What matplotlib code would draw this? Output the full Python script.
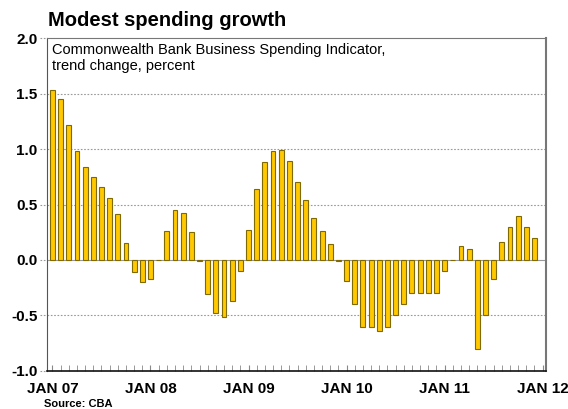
import numpy as np
import matplotlib.pyplot as plt

plt.rcParams['font.family'] = ['Liberation Sans', 'DejaVu Sans']

# monthly, Jan 2007 - Dec 2011
values = [1.53, 1.45, 1.22, 0.98, 0.84, 0.75, 0.66, 0.56, 0.41, 0.15, -0.11, -0.20,
          -0.17, 0.00, 0.26, 0.45, 0.42, 0.25, -0.01, -0.31, -0.48, -0.51, -0.37, -0.10,
          0.27, 0.64, 0.88, 0.98, 0.99, 0.89, 0.70, 0.54, 0.38, 0.26, 0.14, -0.01,
          -0.19, -0.40, -0.60, -0.60, -0.64, -0.60, -0.50, -0.40, -0.30, -0.30, -0.30, -0.30,
          -0.10, 0.00, 0.13, 0.10, -0.80, -0.50, -0.17, 0.16, 0.30, 0.40, 0.30, 0.20]
year_labels = ["JAN 07", "JAN 08", "JAN 09", "JAN 10", "JAN 11", "JAN 12"]
y_ticks = [-1.0, -0.5, 0.0, 0.5, 1.0, 1.5, 2.0]

x = np.arange(len(values))

fig = plt.figure(figsize=(5.68, 4.09), dpi=100)
ax = fig.add_axes([0.0827, 0.093, 0.878, 0.814])

ax.bar(x, values, width=0.6, color="#FFC800", edgecolor="#7F6A00", linewidth=0.8, zorder=3)

ax.set_xlim(-0.67, 60.37)
ax.set_ylim(-1.0, 2.0)

# gridlines, extended a little to the left like the original
for yv in y_ticks[1:-1]:
    if yv == 0.0:
        ax.axhline(0, color="#999999", lw=0.8, zorder=2)
    else:
        ax.axhline(yv, color="#999999", lw=0.8, ls=(0, (1.5, 1.5)), zorder=1)
for yv in y_ticks:
    ax.plot([-0.014, 0], [yv, yv], transform=ax.get_yaxis_transform(), color="#999999",
            lw=0.8, ls=(0, (1.5, 1.5)), clip_on=False)

ax.set_yticks(y_ticks)
ax.set_yticklabels([f"{v:.1f}" for v in y_ticks], fontsize=11, fontweight="bold")
ax.tick_params(axis="y", length=0, pad=7)

ax.set_xticks(np.arange(0, 61, 12))
ax.set_xticklabels(year_labels, fontsize=11, fontweight="bold")
ax.set_xticks(np.arange(0, 61), minor=True)
ax.tick_params(axis="x", which="both", direction="in", length=4, color="#888888")
ax.tick_params(axis="x", which="major", pad=8)

for side in ["top", "right"]:
    ax.spines[side].set_color("#777777")
ax.spines["right"].set_linewidth(1.5)
ax.spines["left"].set_color("#555555")
ax.spines["bottom"].set_color("#111111")
ax.spines["bottom"].set_linewidth(1.2)

ax.text(0.01, 0.985, "Commonwealth Bank Business Spending Indicator,\ntrend change, percent",
        transform=ax.transAxes, fontsize=10.5, va="top", ha="left", linespacing=1.15)

fig.text(48 / 568, 1 - 20 / 409, "Modest spending growth", fontsize=14.5, fontweight="bold",
         va="center", ha="left")
fig.text(44 / 568, 1 - 404 / 409, "Source: CBA", fontsize=8, fontweight="bold",
         va="center", ha="left")

fig.savefig("out.png", dpi=100)
